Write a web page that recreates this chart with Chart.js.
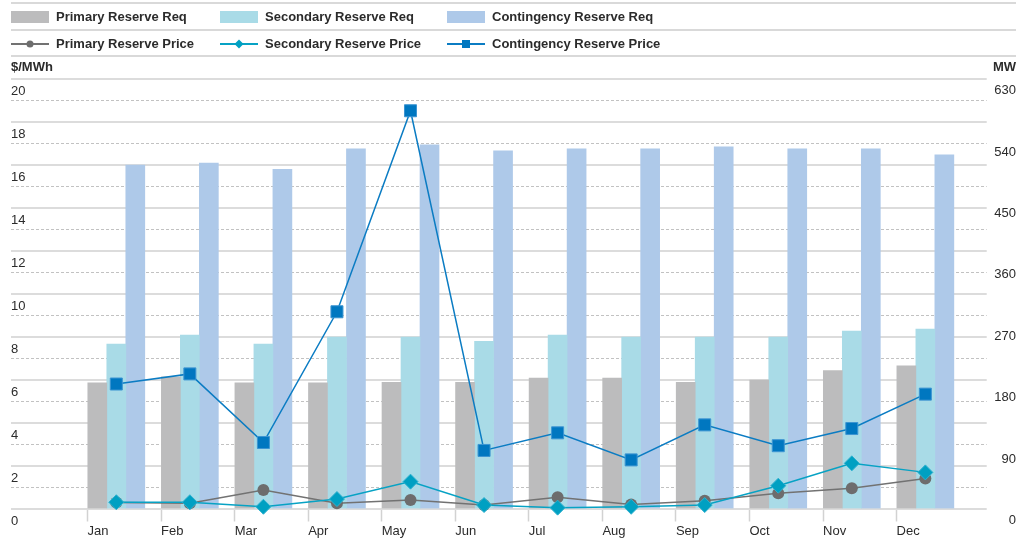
<!DOCTYPE html>
<html>
<head>
<meta charset="utf-8">
<script src="https://cdn.jsdelivr.net/npm/chart.js@4.4.1/dist/chart.umd.min.js"></script>
<style>
  html, body { margin: 0; padding: 0; background: #ffffff; }
  #wrap { width: 1016px; height: 541px; position: relative; }
</style>
</head>
<body>
<div id="wrap"><canvas id="reserves" width="1016" height="541"></canvas></div>
<script>
// Monthly categories
const months = ['Jan', 'Feb', 'Mar', 'Apr', 'May', 'Jun', 'Jul', 'Aug', 'Sep', 'Oct', 'Nov', 'Dec'];

// Reserve requirements (MW, right axis)
const primaryReq     = [184, 193, 184, 184, 185, 185, 191, 191, 185, 188, 202, 209];
const secondaryReq   = [241, 254, 241, 251, 251, 245, 254, 251, 251, 251, 260, 263];
const contingencyReq = [503, 506, 497, 527, 533, 524, 527, 527, 530, 527, 527, 518];

// Reserve prices ($/MWh, left axis)
const primaryPrice     = [0.28, 0.24, 0.86, 0.24, 0.40, 0.16, 0.52, 0.19, 0.36, 0.71, 0.94, 1.40];
const secondaryPrice   = [0.29, 0.29, 0.08, 0.44, 1.25, 0.16, 0.04, 0.08, 0.16, 1.06, 2.10, 1.68];
const contingencyPrice = [5.79, 6.26, 3.07, 9.15, 18.50, 2.70, 3.52, 2.26, 3.89, 2.92, 3.72, 5.32];

// Axis ticks
const priceTicks = [0, 2, 4, 6, 8, 10, 12, 14, 16, 18, 20];
const priceMinorGrid = [1, 3, 5, 7, 9, 11, 13, 15, 17, 19];
const mwTicks = [0, 90, 180, 270, 360, 450, 540, 630];

const FONT = "'Liberation Sans', Arial, Helvetica, sans-serif";
const TEXT = '#2b2b2b';

// month index -> {x, y} points on the linear month axis
const toPoints = vals => vals.map((v, i) => ({ x: i, y: v }));

// month label sits at the left edge of its bar group
const LABEL_SHIFT = 0.391;

const legendPlugin = {
  id: 'reserveLegend',
  afterDraw(chart) {
    const ctx = chart.ctx;
    const ds = chart.data.datasets;
    const byLabel = l => ds.find(d => d.label === l);
    ctx.save();

    // separator rules
    ctx.strokeStyle = '#d9d9d9';
    ctx.lineWidth = 2;
    [3, 30, 56].forEach(y => {
      ctx.beginPath(); ctx.moveTo(11, y); ctx.lineTo(1016, y); ctx.stroke();
    });

    const cols = [11, 220, 447];
    ctx.font = 'bold 13px ' + FONT;
    ctx.fillStyle = TEXT;
    ctx.textBaseline = 'middle';
    ctx.textAlign = 'left';

    // row 1: requirement bars
    ['Primary Reserve Req', 'Secondary Reserve Req', 'Contingency Reserve Req'].forEach((l, i) => {
      const d = byLabel(l);
      ctx.fillStyle = d.backgroundColor;
      ctx.fillRect(cols[i], 11, 38, 12);
      ctx.fillStyle = TEXT;
      ctx.fillText(l, cols[i] + 45, 17.5);
    });

    // row 2: price lines with markers
    ['Primary Reserve Price', 'Secondary Reserve Price', 'Contingency Reserve Price'].forEach((l, i) => {
      const d = byLabel(l);
      const x0 = cols[i], y = 44, xm = x0 + 19;
      ctx.strokeStyle = d.borderColor;
      ctx.lineWidth = 2;
      ctx.beginPath(); ctx.moveTo(x0, y); ctx.lineTo(x0 + 38, y); ctx.stroke();
      ctx.fillStyle = d.pointBackgroundColor;
      ctx.beginPath();
      if (d.pointStyle === 'circle') {
        ctx.arc(xm, y, 3.5, 0, Math.PI * 2);
      } else if (d.pointStyle === 'rectRot') {
        ctx.moveTo(xm - 4.5, y); ctx.lineTo(xm, y - 4.5); ctx.lineTo(xm + 4.5, y); ctx.lineTo(xm, y + 4.5); ctx.closePath();
      } else {
        ctx.rect(xm - 4, y - 4, 8, 8);
      }
      ctx.fill();
      ctx.fillStyle = TEXT;
      ctx.fillText(l, x0 + 45, y);
    });

    // axis units
    ctx.fillText('$/MWh', 11, 67);
    ctx.textAlign = 'right';
    ctx.fillText('MW', 1016, 67);
    ctx.restore();
  }
};

new Chart(document.getElementById('reserves'), {
  type: 'bar',
  data: {
    datasets: [
      {
        type: 'line', label: 'Contingency Reserve Price', data: toPoints(contingencyPrice),
        yAxisID: 'y', borderColor: '#0b7cc3', borderWidth: 1.5, tension: 0,
        pointStyle: 'rect', pointRadius: 8.5, pointBackgroundColor: '#0077c0',
        pointBorderColor: '#3d95d2', pointBorderWidth: 1, clip: false, order: 1
      },
      {
        type: 'line', label: 'Secondary Reserve Price', data: toPoints(secondaryPrice),
        yAxisID: 'y', borderColor: '#07a2c4', borderWidth: 1.5, tension: 0,
        pointStyle: 'rectRot', pointRadius: 7.5, pointBackgroundColor: '#00a0c2',
        pointBorderColor: '#2fb1cf', pointBorderWidth: 1, clip: false, order: 2
      },
      {
        type: 'line', label: 'Primary Reserve Price', data: toPoints(primaryPrice),
        yAxisID: 'y', borderColor: '#727272', borderWidth: 1.5, tension: 0,
        pointStyle: 'circle', pointRadius: 6, pointBackgroundColor: '#6d6d6d',
        pointBorderColor: '#6d6d6d', pointBorderWidth: 0, clip: false, order: 3
      },
      {
        label: 'Primary Reserve Req', data: toPoints(primaryReq), yAxisID: 'y1',
        backgroundColor: '#bcbcbd', barThickness: 19, borderWidth: 0, order: 10
      },
      {
        label: 'Secondary Reserve Req', data: toPoints(secondaryReq), yAxisID: 'y1',
        backgroundColor: '#a9dbe7', barThickness: 19, borderWidth: 0, order: 10
      },
      {
        label: 'Contingency Reserve Req', data: toPoints(contingencyReq), yAxisID: 'y1',
        backgroundColor: '#aec9e9', barThickness: 19, borderWidth: 0, order: 10
      }
    ]
  },
  options: {
    responsive: false,
    animation: false,
    events: [],
    layout: { padding: { top: 78.5, left: 11, right: 0, bottom: 0 } },
    plugins: { legend: { display: false }, tooltip: { enabled: false }, title: { display: false } },
    scales: {
      x: {
        type: 'linear', position: 'bottom', min: -1.4317, max: 11.834, offset: false,
        grid: { display: true, offset: false, drawOnChartArea: false, drawTicks: true,
                tickLength: 13, tickColor: '#d2d2d2', tickWidth: 1.5 },
        border: { display: false },
        ticks: { align: 'start', autoSkip: false, maxRotation: 0, minRotation: 0, padding: 2,
                 color: TEXT, font: { family: FONT, size: 13 },
                 callback: (v, i) => months[i] },
        afterBuildTicks: s => { s.ticks = months.map((m, i) => ({ value: i - LABEL_SHIFT })); },
        afterFit: s => { s.height = 32.5; }
      },
      y: {
        type: 'linear', position: 'left', min: 0, max: 20,
        grid: { color: '#dcdcdc', lineWidth: 2, drawTicks: false },
        border: { display: false },
        ticks: { mirror: true, padding: 0, labelOffset: 12.5, color: TEXT,
                 font: { family: FONT, size: 13 } },
        afterBuildTicks: s => { s.ticks = priceTicks.map(v => ({ value: v })); },
        afterFit: s => { s.width = 0; }
      },
      yMinor: {
        type: 'linear', position: 'left', min: 0, max: 20,
        grid: { color: '#c2c2c2', lineWidth: 1, drawTicks: false },
        border: { display: false, dash: [3, 2] },
        ticks: { display: false },
        afterBuildTicks: s => { s.ticks = priceMinorGrid.map(v => ({ value: v })); },
        afterFit: s => { s.width = 0; }
      },
      y1: {
        type: 'linear', position: 'right', min: 0, max: 630,
        grid: { display: false, drawTicks: false },
        border: { display: false },
        ticks: { crossAlign: 'far', padding: 6, labelOffset: 12, color: TEXT,
                 font: { family: FONT, size: 13 } },
        afterBuildTicks: s => { s.ticks = mwTicks.map(v => ({ value: v })); },
        afterFit: s => { s.width = 29.3; }
      }
    }
  },
  plugins: [legendPlugin]
});
</script>
</body>
</html>
